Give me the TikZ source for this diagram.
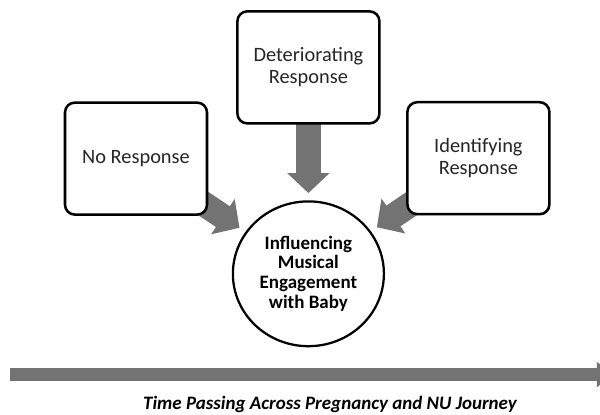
\documentclass[tikz,border=0pt]{standalone}
\usepackage{fontspec}
\setmainfont{Carlito}
\usetikzlibrary{shapes,arrows.meta,positioning,backgrounds,shadows}
\tikzset{
box/.style = {draw, fill=white, rectangle, rounded corners=7pt, line width=1.8pt, minimum width=3.55cm, minimum height=2.8cm, align = center, text=black!85, font=\fontsize{14.5}{15.5}\selectfont, drop shadow={shadow xshift=0.6pt, shadow yshift=-0.8pt, opacity=0.35}},
hub/.style = {draw, fill=white, ellipse, line width=1.6pt, minimum width=3.75cm, minimum height=3.62cm, align = center, font=\bfseries\fontsize{13.5}{14.2}\selectfont},
feed/.style = {draw=black!55, line width=0.625cm, -{Triangle[length=0.5cm, width=1.03cm]}, shorten >=0.18cm},
timeline/.style = {draw=black!55, line width=0.33cm, -{Triangle[length=0.38cm, width=0.62cm]}},
}
\begin{document}
\begin{tikzpicture}
      \useasboundingbox (0,0) rectangle (15,10.375);
      \node [hub] (hub) at (7.71,3.53) {Influencing\\Musical\\Engagement\\with Baby};
      \node [box, above of = hub, node distance = 5.16cm] (deter) {Deteriorating\\Response};
      \node [box] (noresp) at (3.4,6.41) {No Response};
      \node [box] (ident) at (11.96,6.42) {Identifying\\Response};
      % fat arrows sit behind the boxes
      \begin{scope}[on background layer]
      \draw [feed] (deter.center) -- (hub);
      \draw [feed] (noresp.center) -- (hub);
      \draw [feed] (ident.center) -- (hub);
      \end{scope}
      % time axis
      \coordinate (tstart) at (0.25,1.01);
      \coordinate (tend) at (15.3,1.01);
      \draw [timeline] (tstart) -- (tend);
      \node [font=\bfseries\itshape\fontsize{13.5}{16}\selectfont] (time) at (8.25,0.26) {Time Passing Across Pregnancy and NU Journey};
\end{tikzpicture}
\end{document}
